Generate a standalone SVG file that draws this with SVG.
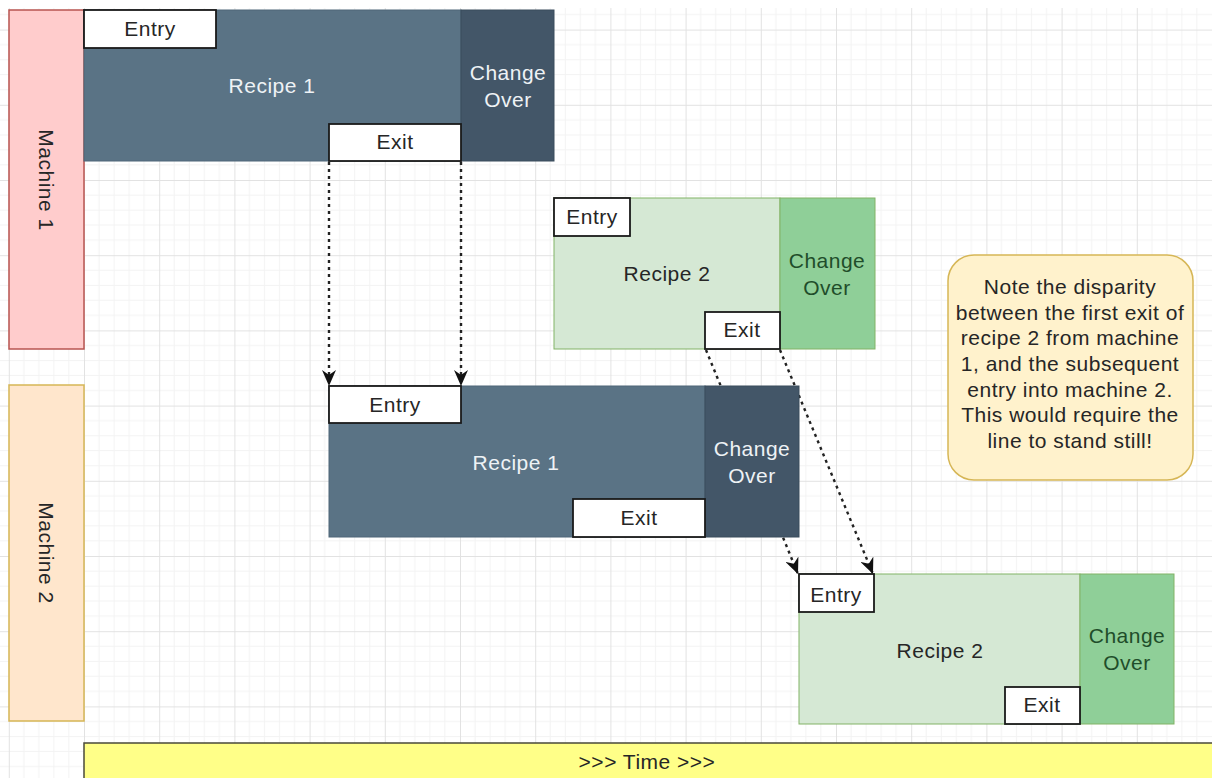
<svg xmlns="http://www.w3.org/2000/svg" width="1212" height="778" viewBox="0 0 1212 778">
  <defs>
    <!-- background grid: minor lines every 15.04px, major every 75.2px -->
    <pattern id="grid" patternUnits="userSpaceOnUse" x="84" y="29.6" width="75.2" height="75.2">
      <path d="M15.04,0V75.2M30.08,0V75.2M45.12,0V75.2M60.16,0V75.2M0,15.04H75.2M0,30.08H75.2M0,45.12H75.2M0,60.16H75.2" fill="none" stroke="#f3f3f3" stroke-width="1"/>
      <path d="M0.5,0V75.2M0,0.5H75.2" fill="none" stroke="#e2e2e2" stroke-width="1"/>
    </pattern>
    <marker id="arrow" markerUnits="userSpaceOnUse" markerWidth="16" markerHeight="14" refX="16" refY="7" orient="auto">
      <path d="M0,0 L16,7 L0,14 L5,7 Z" fill="#111"/>
    </marker>
  </defs>
  <style>
    text { font-family: "Liberation Sans", Arial, sans-serif; font-size: 21px; letter-spacing: 0.5px; text-anchor: middle; }
    .lane1 { fill: #ffcccc; stroke: #b85450; stroke-width: 1.5; }
    .lane2 { fill: #ffe6cc; stroke: #d6b656; stroke-width: 1.5; }
    .dark { fill: #5a7385; stroke: #4e6678; stroke-width: 1; }
    .darkco { fill: #435668; stroke: #3a4c5c; stroke-width: 1; }
    .light { fill: #d5e8d4; stroke: #82b366; stroke-width: 1; }
    .lightco { fill: #8fcf98; stroke: #82b366; stroke-width: 1; }
    .tag { fill: #ffffff; stroke: #1a1a1a; stroke-width: 1.8; }
    .note { fill: #fff2cc; stroke: #d6b656; stroke-width: 1.5; }
    .time { fill: #ffff88; stroke: #4a4a3a; stroke-width: 1.5; }
    .wt { fill: #eef2f5; }
    .bk { fill: #262626; }
    .gt { fill: #1f4d2a; }
    .flow { fill: none; stroke: #222; stroke-width: 2.4; stroke-dasharray: 3 4; marker-end: url(#arrow); }
  </style>

  <rect x="0" y="0" width="1212" height="778" fill="#ffffff"/>
  <rect x="0" y="8" width="1212" height="770" fill="url(#grid)"/>

  <!-- flows from machine 1 to machine 2 -->
  <g id="connectors">
    <line class="flow" x1="329" y1="162" x2="329" y2="386"/>
    <line class="flow" x1="461" y1="162" x2="461" y2="386"/>
    <line class="flow" x1="706" y1="350" x2="798" y2="574"/>
    <line class="flow" x1="780" y1="350" x2="873" y2="574"/>
  </g>

  <g id="machine1">
    <rect class="lane1" x="9" y="10" width="75" height="339"/>
    <text class="bk" transform="translate(46,180) rotate(90)" y="7">Machine 1</text>
  </g>

  <g id="machine2">
    <rect class="lane2" x="9" y="385" width="75" height="336"/>
    <text class="bk" transform="translate(46,553) rotate(90)" y="7">Machine 2</text>
  </g>

  <!-- machine 1, recipe 1 -->
  <g id="m1-recipe1">
    <rect class="dark" x="84" y="10" width="377" height="151"/>
    <text class="wt" x="272" y="93">Recipe 1</text>
  </g>
  <g id="m1-recipe1-changeover">
    <rect class="darkco" x="461" y="10" width="93" height="151"/>
    <text class="wt" x="508" y="80">Change</text>
    <text class="wt" x="508" y="107">Over</text>
  </g>
  <g id="m1-recipe1-entry">
    <rect class="tag" x="84" y="10" width="132" height="38"/>
    <text class="bk" x="150" y="36">Entry</text>
  </g>
  <g id="m1-recipe1-exit">
    <rect class="tag" x="329" y="124" width="132" height="37"/>
    <text class="bk" x="395" y="149">Exit</text>
  </g>

  <!-- machine 1, recipe 2 -->
  <g id="m1-recipe2">
    <rect class="light" x="554" y="198" width="226" height="151"/>
    <text class="bk" x="667" y="281">Recipe 2</text>
  </g>
  <g id="m1-recipe2-changeover">
    <rect class="lightco" x="780" y="198" width="95" height="151"/>
    <text class="gt" x="827" y="268">Change</text>
    <text class="gt" x="827" y="295">Over</text>
  </g>
  <g id="m1-recipe2-entry">
    <rect class="tag" x="554" y="198" width="76" height="38"/>
    <text class="bk" x="592" y="224">Entry</text>
  </g>
  <g id="m1-recipe2-exit">
    <rect class="tag" x="705" y="312" width="75" height="37"/>
    <text class="bk" x="742" y="337">Exit</text>
  </g>

  <!-- machine 2, recipe 1 -->
  <g id="m2-recipe1">
    <rect class="dark" x="329" y="386" width="376" height="151"/>
    <text class="wt" x="516" y="470">Recipe 1</text>
  </g>
  <g id="m2-recipe1-changeover">
    <rect class="darkco" x="705" y="386" width="94" height="151"/>
    <text class="wt" x="752" y="456">Change</text>
    <text class="wt" x="752" y="483">Over</text>
  </g>
  <g id="m2-recipe1-entry">
    <rect class="tag" x="329" y="386" width="132" height="37"/>
    <text class="bk" x="395" y="412">Entry</text>
  </g>
  <g id="m2-recipe1-exit">
    <rect class="tag" x="573" y="499" width="132" height="38"/>
    <text class="bk" x="639" y="525">Exit</text>
  </g>

  <!-- machine 2, recipe 2 -->
  <g id="m2-recipe2">
    <rect class="light" x="799" y="574" width="281" height="150"/>
    <text class="bk" x="940" y="658">Recipe 2</text>
  </g>
  <g id="m2-recipe2-changeover">
    <rect class="lightco" x="1080" y="574" width="94" height="150"/>
    <text class="gt" x="1127" y="643">Change</text>
    <text class="gt" x="1127" y="670">Over</text>
  </g>
  <g id="m2-recipe2-entry">
    <rect class="tag" x="799" y="574" width="75" height="38"/>
    <text class="bk" x="836" y="602">Entry</text>
  </g>
  <g id="m2-recipe2-exit">
    <rect class="tag" x="1005" y="687" width="75" height="37"/>
    <text class="bk" x="1042" y="712">Exit</text>
  </g>

  <g id="note">
    <rect class="note" x="948" y="255" width="245" height="225" rx="26" ry="26"/>
    <text class="bk" x="1070" y="294">Note the disparity</text>
    <text class="bk" x="1070" y="320">between the first exit of</text>
    <text class="bk" x="1070" y="345">recipe 2 from machine</text>
    <text class="bk" x="1070" y="371">1, and the subsequent</text>
    <text class="bk" x="1070" y="397">entry into machine 2.</text>
    <text class="bk" x="1070" y="422">This would require the</text>
    <text class="bk" x="1070" y="448">line to stand still!</text>
  </g>

  <g id="time">
    <rect class="time" x="84" y="743" width="1140" height="45"/>
    <text class="bk" x="647" y="769">&gt;&gt;&gt; Time &gt;&gt;&gt;</text>
  </g>
</svg>
